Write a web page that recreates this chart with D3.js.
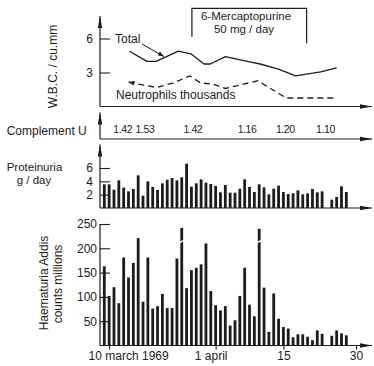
<!DOCTYPE html>
<html>
<head>
<meta charset="utf-8">
<script src="https://cdn.jsdelivr.net/npm/d3@7"></script>
<style>
  html, body { margin: 0; padding: 0; background: #fff; }
  svg { display: block; font-family: "Liberation Sans", Arial, sans-serif; }
</style>
</head>
<body>
<svg id="chart" width="374" height="366"></svg>
<script>
// day numbers are counted from 1 March 1969 (9 = 9 March, 32 = 1 April, 46 = 15 April)
const days = d3.range(9, 60);

// g/day, one value per day, null = no sample
const proteinuria = [
  3.55, 3.55, 2.75, 4.15, 3.05, 2.5, 2.85, 4.9, 1.85, 4.0,
  3.15, 2.7, 3.7, 4.25, 4.5, 4.15, 4.6, 6.65, 3.2, 3.7,
  4.3, 3.8, 3.6, 3.3, 2.35, 3.45, 2.3, 2.3, 2.9, 4.3,
  3.15, 2.4, 3.55, 3.1, 2.05, 2.9, 3.35, 2.4, 2.1, 2.2,
  2.65, 2.05, 2.2, 2.85, 2.35, 2.5, null, 1.25, 1.65, 3.25, 2.4
];

// Addis counts, millions
const haematuria = [
  163, 102, 120, 87, 181, 140, 170, 221, 90, 181,
  76, 81, 106, 77, 77, 179, 242, 118, 155, 160,
  167, 210, 112, 83, 72, 81, 41, 52, 102, 160,
  84, 60, 240, 119, 28, 107, 55, 38, 35, 17,
  23, 23, 18, 11, 31, 24, null, 20, 31, 25, 21
];
const haemBrokenDays = [25, 41];

// W.B.C. thousands / cu.mm
const totalDays = [14.2, 17.8, 19.7, 24.3, 26.9, 29.6, 30.9, 34, 38.8, 41.2, 45, 48.5, 53.7, 57];
const totalWBC  = [4.88, 3.98, 3.98, 4.88, 4.65, 3.75, 3.75, 4.4, 3.95, 3.75, 3.3, 2.7, 3.05, 3.4];
const neutroDays = [14, 15.7, 19.8, 23.3, 26.7, 28.8, 31.6, 34, 40.7, 46.6, 57];
const neutroWBC  = [2.16, 2.0, 1.68, 2.09, 2.7, 2.09, 1.95, 1.59, 2.27, 0.75, 0.75];

const complementDays = [12.8, 17.4, 27.3, 38.5, 46.4, 54.7];
const complementValues = ['1.42', '1.53', '1.42', '1.16', '1.20', '1.10'];

const drugDays = [27.1, 50.8];
const drugLabel = ['6-Mercaptopurine', '50 mg / day'];

const dateTicks = [10, 32, 46, 61];
const dateTickLabels = ['10 march 1969', '1 april', '15', '30'];
const wbcTicks = [3, 6];
const proteinTicks = [2, 4, 6];
const haemTicks = [50, 100, 150, 200, 250];

const ink = '#1c1c1c';
const font = '"Liberation Sans", Arial, sans-serif';
const axisX = 100;
const axisEnd = 372;
const barW = 2.8;

const svg = d3.select('#chart');

const x = d3.scaleLinear().domain([9, 61]).range([104.3, 356]);
const yWbc = d3.scaleLinear().domain([0, 6]).range([106.5, 38.5]);
const complementBase = 139;
const yProt = d3.scaleLinear().domain([0, 6]).range([208, 168]);
const yHaem = d3.scaleLinear().domain([0, 250]).range([345.5, 224]);

// arrow heads
const defs = svg.append('defs');
defs.append('marker')
  .attr('id', 'arrow')
  .attr('viewBox', '0 -3 12 6')
  .attr('refX', 12).attr('refY', 0)
  .attr('markerWidth', 12).attr('markerHeight', 6)
  .attr('markerUnits', 'userSpaceOnUse')
  .attr('orient', 'auto')
  .append('path')
  .attr('d', 'M0,-2.2L12,0L0,2.2Z')
  .attr('fill', ink);
defs.append('marker')
  .attr('id', 'tip')
  .attr('viewBox', '0 -3 6 6')
  .attr('refX', 6).attr('refY', 0)
  .attr('markerWidth', 6).attr('markerHeight', 6)
  .attr('markerUnits', 'userSpaceOnUse')
  .attr('orient', 'auto-start-reverse')
  .append('path')
  .attr('d', 'M0,-2.3L6,0L0,2.3Z')
  .attr('fill', ink);

const g = svg.append('g');

function hAxis(y) {
  g.append('line')
    .attr('x1', axisX).attr('x2', axisEnd)
    .attr('y1', y).attr('y2', y)
    .attr('stroke', ink).attr('stroke-width', 1.2)
    .attr('marker-end', 'url(#arrow)');
}

function vAxis(yBottom, yTop, arrow) {
  g.append('line')
    .attr('x1', axisX).attr('x2', axisX)
    .attr('y1', yBottom).attr('y2', yTop)
    .attr('stroke', ink).attr('stroke-width', 1.2)
    .attr('marker-end', arrow ? 'url(#arrow)' : null);
}

function leftTicks(scale, values, padding) {
  const a = g.append('g')
    .attr('transform', `translate(${axisX},0)`)
    .call(d3.axisLeft(scale).tickValues(values).tickFormat(d3.format('d'))
      .tickSize(-10).tickPadding(padding));
  a.select('.domain').remove();
  a.selectAll('line').attr('stroke', ink).attr('stroke-width', 1.1);
  a.selectAll('text')
    .attr('fill', ink)
    .style('font-size', '12px')
    .style('font-family', font);
  return a;
}

function label(text, xPos, yPos, opts = {}) {
  const t = g.append('text')
    .attr('x', xPos).attr('y', yPos)
    .attr('fill', ink)
    .style('font-size', (opts.size || 12) + 'px')
    .attr('text-anchor', opts.anchor || 'start')
    .text(text);
  if (opts.rotate) {
    t.attr('x', null).attr('y', null)
      .attr('transform', `translate(${xPos},${yPos}) rotate(-90)`);
  }
  return t;
}

// ---------- W.B.C. panel ----------
hAxis(yWbc(0));
vAxis(yWbc(0), 16, true);
leftTicks(yWbc, wbcTicks, 7);

const wbcLine = d3.line().x(d => x(d[0])).y(d => yWbc(d[1]));

g.append('path')
  .datum(d3.zip(totalDays, totalWBC))
  .attr('d', wbcLine)
  .attr('fill', 'none')
  .attr('stroke', ink)
  .attr('stroke-width', 1.3)
  .attr('stroke-linejoin', 'round');

g.append('path')
  .datum(d3.zip(neutroDays, neutroWBC))
  .attr('d', wbcLine)
  .attr('fill', 'none')
  .attr('stroke', ink)
  .attr('stroke-width', 1.3)
  .attr('stroke-dasharray', '6,4')
  .attr('marker-start', 'url(#tip)');

label('Total', 115, 43.3);
g.append('line')
  .attr('x1', 142).attr('y1', 44)
  .attr('x2', 164).attr('y2', 56.5)
  .attr('stroke', ink).attr('stroke-width', 1)
  .attr('marker-end', 'url(#tip)');
label('Neutrophils thousands', 116, 99.3);

g.append('path')
  .attr('d', `M${x(drugDays[0])},36.7V8.3H${x(drugDays[1])}V43.3`)
  .attr('fill', 'none')
  .attr('stroke', ink)
  .attr('stroke-width', 1.2);
label(drugLabel[0], 246, 20.3, { anchor: 'middle', size: 11.5 });
label(drugLabel[1], 244, 33.3, { anchor: 'middle', size: 11.5 });

label('W.B.C. / cu.mm', 57.3, 66.5, { anchor: 'middle', rotate: true });

// ---------- Complement panel ----------
hAxis(complementBase);
vAxis(complementBase, 112.5, true);
label('Complement U', 6.7, 135.2);
g.selectAll('.complement')
  .data(d3.zip(complementDays, complementValues))
  .join('text')
  .attr('class', 'complement')
  .attr('x', d => x(d[0]))
  .attr('y', 133.3)
  .attr('text-anchor', 'middle')
  .attr('fill', ink)
  .style('font-size', '10.5px')
  .style('letter-spacing', '-0.4px')
  .text(d => d[1]);

// ---------- Proteinuria panel ----------
hAxis(yProt(0));
vAxis(yProt(0), 144.5, true);
leftTicks(yProt, proteinTicks, 7);
label('Proteinuria', 6.7, 171.2, { size: 11.5 });
label('g / day', 34, 184, { anchor: 'middle', size: 11.5 });

g.selectAll('.prot')
  .data(d3.zip(days, proteinuria).filter(d => d[1] != null))
  .join('rect')
  .attr('class', 'prot')
  .attr('x', d => x(d[0]) - barW / 2)
  .attr('width', barW)
  .attr('y', d => yProt(d[1]))
  .attr('height', d => yProt(0) - yProt(d[1]))
  .attr('fill', ink);

// ---------- Haematuria panel ----------
vAxis(yHaem(0), yHaem(250), false);
leftTicks(yHaem, haemTicks, 3);

g.selectAll('.haem')
  .data(d3.zip(days, haematuria).filter(d => d[1] != null))
  .join('rect')
  .attr('class', 'haem')
  .attr('x', d => x(d[0]) - barW / 2)
  .attr('width', barW)
  .attr('y', d => yHaem(d[1]))
  .attr('height', d => yHaem(0) - yHaem(d[1]))
  .attr('fill', ink);

// break marks on the off-scale bars
g.selectAll('.brk')
  .data(haemBrokenDays)
  .join('line')
  .attr('class', 'brk')
  .attr('x1', d => x(d) - 2.5).attr('y1', yHaem(211))
  .attr('x2', d => x(d) + 2.5).attr('y2', yHaem(217))
  .attr('stroke', '#fff')
  .attr('stroke-width', 1.4);

hAxis(yHaem(0));

const dateShift = [19, -5, 0, 0];
const xAxis = g.append('g')
  .attr('transform', `translate(0,${yHaem(0)})`)
  .call(d3.axisBottom(x).tickValues(dateTicks)
    .tickFormat((d, i) => dateTickLabels[i])
    .tickSize(4).tickPadding(2));
xAxis.select('.domain').remove();
xAxis.selectAll('line').attr('stroke', ink).attr('stroke-width', 1.1);
xAxis.selectAll('text')
  .attr('fill', ink)
  .attr('dx', (d, i) => dateShift[i])
  .style('font-size', '12px')
  .style('font-family', font);

label('Haematuria  Addis', 48.3, 283, { anchor: 'middle', rotate: true });
label('counts millions', 61.7, 284, { anchor: 'middle', rotate: true });
</script>
</body>
</html>
